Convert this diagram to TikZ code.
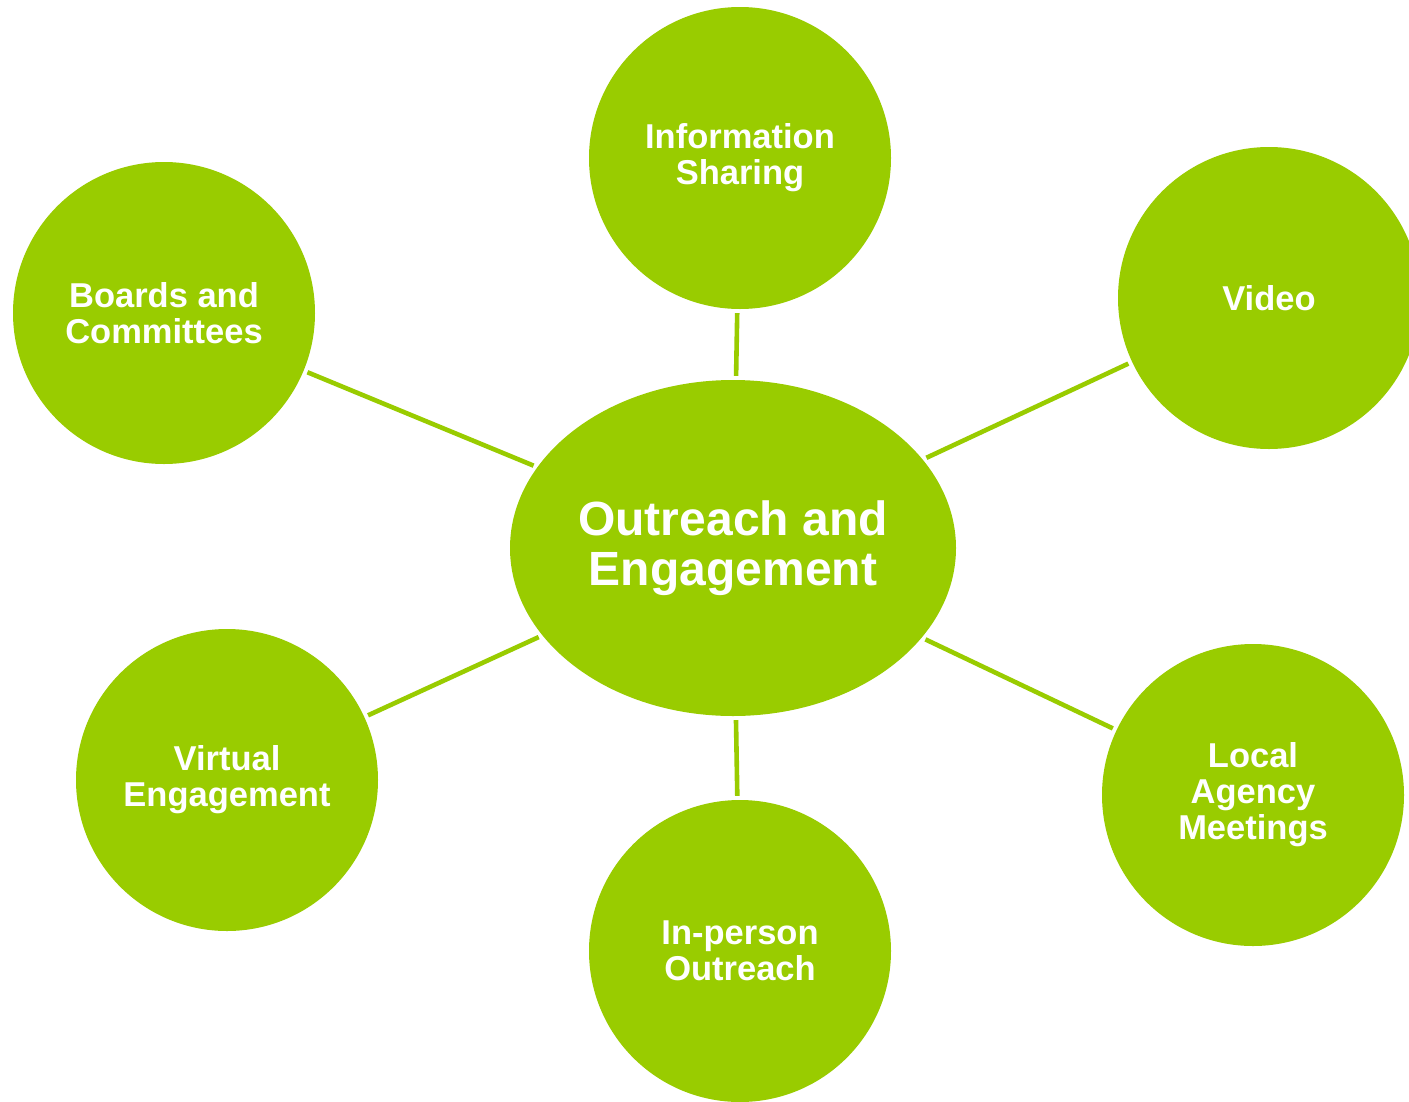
\documentclass[tikz,border=0pt]{standalone}
\usepackage{fontspec}
\setmainfont{Liberation Sans}
\usetikzlibrary{shapes.geometric}
\definecolor{leaf}{HTML}{99CC00}
\begin{document}
\begin{tikzpicture}[x=1pt,y=-1pt,
  hub/.style={ellipse, fill=leaf, draw=none, minimum width=446pt, minimum height=336pt,
    inner sep=0pt, align=center, text=white, font=\fontsize{48}{50}\selectfont\bfseries},
  spoke/.style={circle, fill=leaf, draw=none, minimum size=302pt, inner sep=0pt,
    align=center, text=white, font=\fontsize{34.5}{36}\selectfont\bfseries},
  link/.style={draw=leaf, line width=4.6pt, shorten <=4pt, shorten >=4pt}]
  \useasboundingbox (0,0) rectangle (1409,1101);
  \fill[white] (0,0) rectangle (1409,1101);

  \node[hub] (core) at (733,548) {Outreach and\\Engagement};

  \node[spoke] (info)   at (740,158)  {Information\\Sharing};
  \node[spoke] (video)  at (1269,298) {Video};
  \node[spoke] (boards) at (164,313)  {Boards and\\Committees};
  \node[spoke] (virt)   at (227,780)  {Virtual\\Engagement};
  \node[spoke] (inper)  at (740,951)  {In-person\\Outreach};
  \node[spoke] (local)  at (1253,795) {Local\\Agency\\Meetings};

  \draw[link] (info)   -- (core);
  \draw[link] (video)  -- (core);
  \draw[link] (boards) -- (core);
  \draw[link] (virt)   -- (core);
  \draw[link] (inper)  -- (core);
  \draw[link] (local)  -- (core);
\end{tikzpicture}
\end{document}
